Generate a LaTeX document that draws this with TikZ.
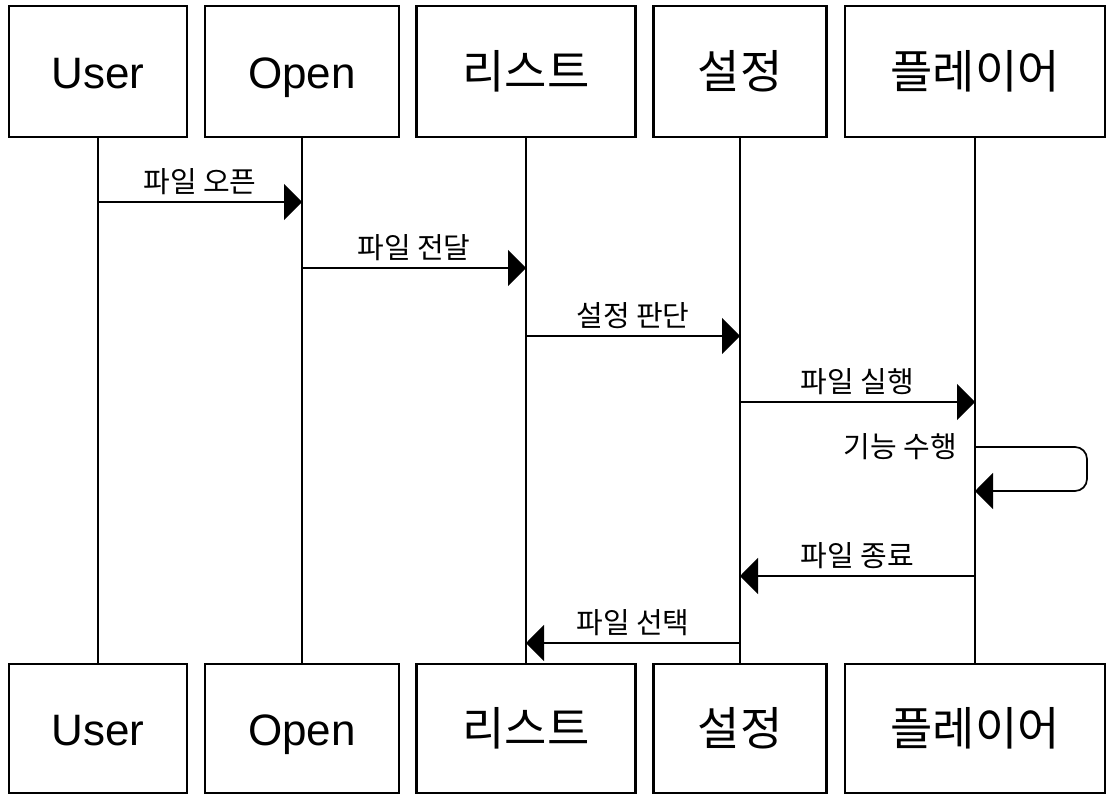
\documentclass[tikz,border=0pt]{standalone}
\usepackage{fontspec}
\setmainfont{Liberation Sans}
\newfontfamily\kr{Noto Sans CJK KR}
\usetikzlibrary{arrows.meta}

\tikzset{
  box/.style={draw, line width=2.2pt, inner sep=0pt, minimum height=131pt,
    text height=40pt, text depth=7pt, font=\fontsize{44}{50}\selectfont},
  krbox/.style={font=\kr\fontsize{46}{52}\selectfont},
  msglabel/.style={inner sep=0pt, font=\kr\fontsize{29}{32}\selectfont},
  msgtip/.style={-{Triangle[length=18pt,width=36pt]}},
}

\begin{document}
\begin{tikzpicture}[x=1pt, y=-1pt]
  \useasboundingbox (0,0) rectangle (1106,795);

  \begin{scope}[every node/.style={box}]
    \node (userT) at (98,71.5) [minimum width=178pt] {User};
    \node (openT) at (302,71.5) [minimum width=194pt] {Open};
    \node (listT) at (526,71.5) [minimum width=219pt, krbox] {리스트};
    \node (confT) at (740,71.5) [minimum width=173pt, krbox] {설정};
    \node (playT) at (975,71.5) [minimum width=260pt, krbox] {플레이어};
  \end{scope}
  \begin{scope}[every node/.style={box, minimum height=129pt}]
    \node (userB) at (98,728.5) [minimum width=178pt] {User};
    \node (openB) at (302,728.5) [minimum width=194pt] {Open};
    \node (listB) at (526,728.5) [minimum width=219pt, krbox] {리스트};
    \node (confB) at (740,728.5) [minimum width=173pt, krbox] {설정};
    \node (playB) at (975,728.5) [minimum width=260pt, krbox] {플레이어};
  \end{scope}

  % lifelines
  \begin{scope}[every edge/.style={draw, line width=1.7pt}]
    \path
      (userT) edge (userB)
      (openT) edge (openB)
      (listT) edge (listB)
      (confT) edge (confB)
      (playT) edge (playB);
  \end{scope}

  % message rows
  \coordinate (r1) at (0,202);
  \coordinate (r2) at (0,268);
  \coordinate (r3) at (0,336);
  \coordinate (r4) at (0,402);
  \coordinate (r5) at (0,447);
  \coordinate (r6) at (0,491);
  \coordinate (r7) at (0,576);
  \coordinate (r8) at (0,643);

  \begin{scope}[every edge/.style={draw, line width=1.7pt, msgtip}]
    \path
      (userT.south |- r1) edge node[msglabel, above=6pt] (m1) {파일 오픈} (openT.south |- r1)
      (openT.south |- r2) edge node[msglabel, above=6pt] (m2) {파일 전달} (listT.south |- r2)
      (listT.south |- r3) edge node[msglabel, above=6pt] (m3) {설정 판단} (confT.south |- r3)
      (confT.south |- r4) edge node[msglabel, above=6pt] (m4) {파일 실행} (playT.south |- r4)
      (playT.south |- r7) edge node[msglabel, above=6pt] (m6) {파일 종료} (confT.south |- r7)
      (confT.south |- r8) edge node[msglabel, above=6pt] (m7) {파일 선택} (listT.south |- r8);
  \end{scope}

  % self call
  \draw[line width=1.7pt, msgtip, rounded corners=12pt]
    (playT.south |- r5) node[msglabel, anchor=east, xshift=-17pt] (m5) {기능 수행}
    -- ++(112,0) -- ++(0,44) -- (playT.south |- r6);
\end{tikzpicture}
\end{document}
